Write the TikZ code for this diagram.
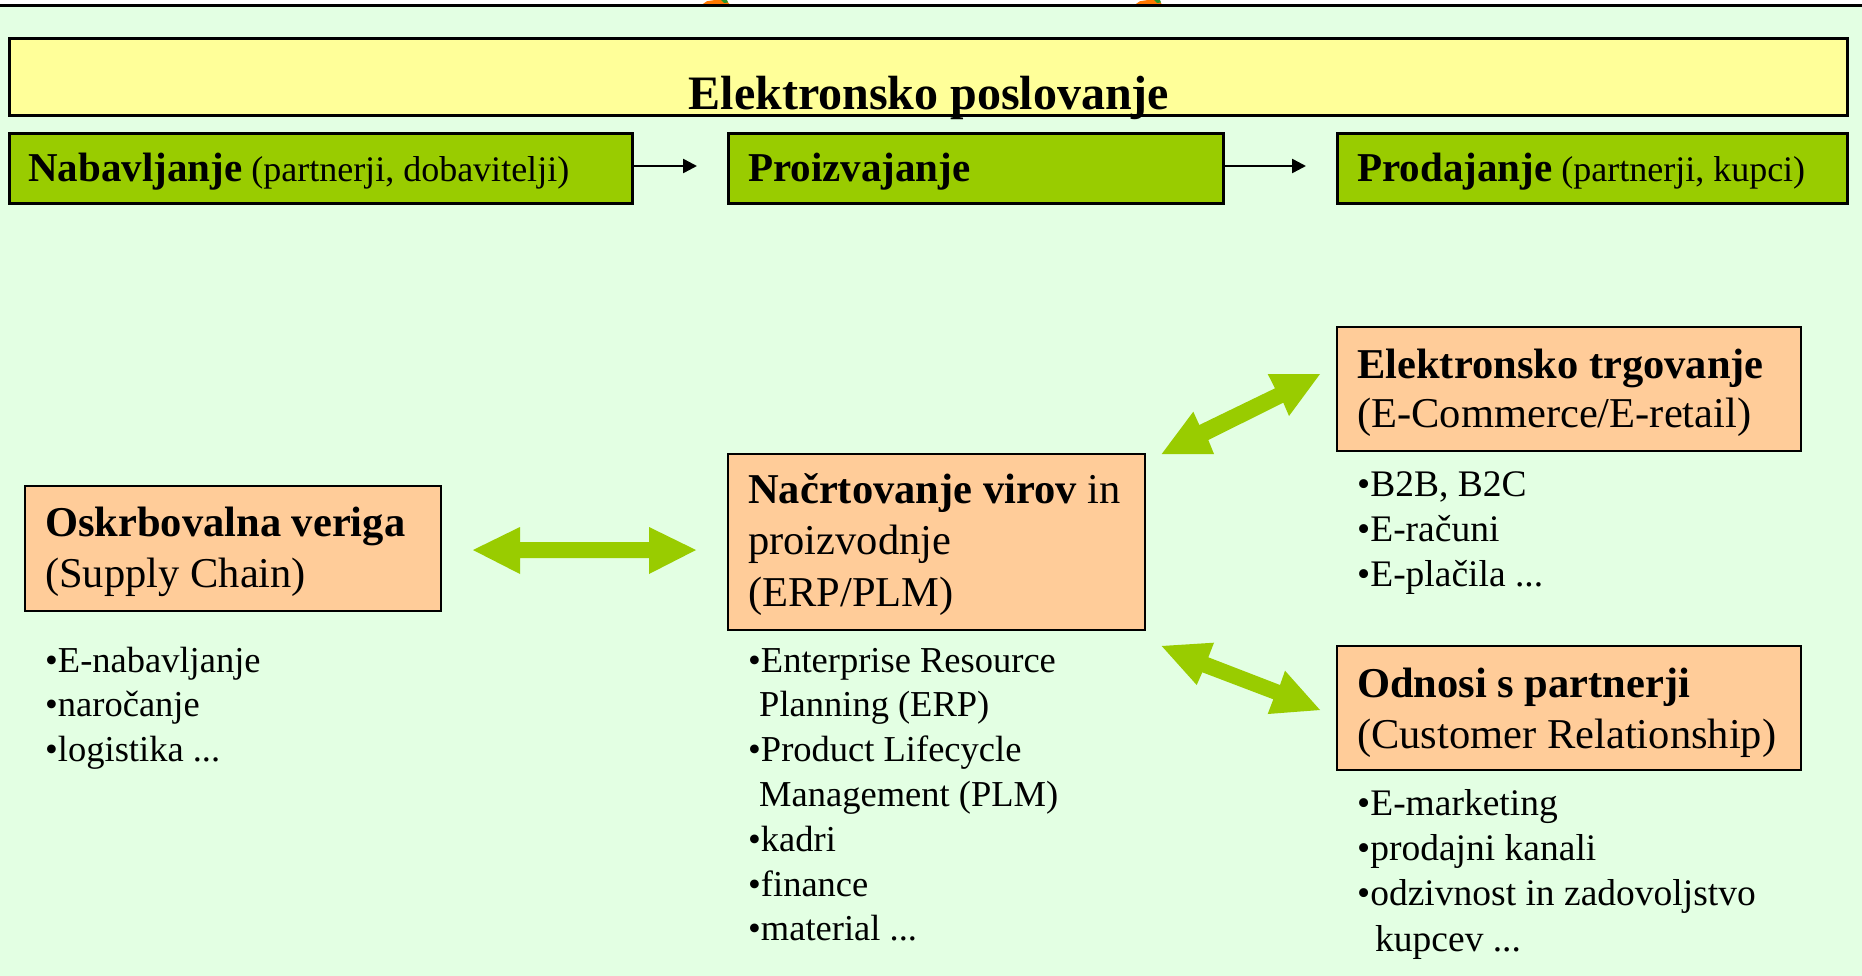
\documentclass[tikz,border=0pt]{standalone}
\usepackage{fontspec}
\setmainfont{Liberation Serif}
\usetikzlibrary{arrows.meta}

\definecolor{bgmint}{RGB}{227,255,227}
\definecolor{titleyellow}{RGB}{255,255,153}
\definecolor{stagegreen}{RGB}{153,204,0}
\definecolor{peach}{RGB}{255,204,153}
\definecolor{carrot}{RGB}{255,120,0}
\definecolor{leaf}{RGB}{40,150,40}

% left-aligned block of lines whose baseline is that of its first line
\newcommand{\stackedlines}[1]{\begin{tabular}[t]{@{}l@{}}#1\end{tabular}}

\begin{document}
\begin{tikzpicture}[x=1pt,y=-1pt,
  titlebox/.style={draw=black, line width=2.5pt, fill=titleyellow, inner sep=0pt},
  stagebox/.style={draw=black, line width=3pt, fill=stagegreen, inner sep=0pt, minimum height=70},
  areabox/.style={draw=black, line width=2.5pt, fill=peach, inner sep=0pt},
  txt/.style={anchor=base west, inner sep=0pt},
  boxtxt/.style={txt, font=\fontsize{42.5}{51.5}\selectfont},
  listtxt/.style={txt, font=\fontsize{36.5}{44.8}\selectfont},
  stagetxt/.style={txt, font=\fontsize{36}{40}\selectfont},
  flow/.style={line width=2.5pt, -{Triangle[length=14pt,width=14pt]}, shorten >=30pt},
  blockarrow/.style={fill=stagegreen, draw=none}
]
% canvas
\useasboundingbox (0,0) rectangle (1862,976);
\fill[bgmint] (0,0) rectangle (1862,976);
\fill[white] (0,0) rectangle (1862,4.5);
\fill[carrot] (702,4.6) -- (707,1.2) -- (715,0) -- (726,0) -- (730,4.6) -- cycle;
\fill[leaf] (721,0) -- (727,0) -- (728,2.5) -- (724,3) -- cycle;
\fill[carrot] (1135,4.6) -- (1140,1.2) -- (1148,0) -- (1159,0) -- (1162,4.6) -- cycle;
\fill[leaf] (1154,0) -- (1160,0) -- (1161,2.5) -- (1157,3) -- cycle;
\fill[black] (0,4.5) rectangle (1862,7.5);

% title bar
\node[titlebox, minimum width=1838, minimum height=77] (title) at (928.5,77) {};
\node[anchor=base, inner sep=0pt, font=\fontsize{48}{56}\selectfont\bfseries] (titletext) at (929,110) {Elektronsko poslovanje};

% value chain stages
\node[stagebox, minimum width=623] (nab) at (321,169) {};
\node[stagebox, minimum width=495] (pro) at (976,169) {};
\node[stagebox, minimum width=510] (prod) at (1592.5,169) {};
\node[stagetxt] (nabtext) at (28,182) {{\fontsize{41}{44}\selectfont\bfseries Nabavljanje} (partnerji, dobavitelji)};
\node[stagetxt] (protext) at (748,182) {{\fontsize{41}{44}\selectfont\bfseries Proizvajanje}};
\node[stagetxt] (prodtext) at (1357,182) {{\fontsize{41}{44}\selectfont\bfseries Prodajanje} (partnerji, kupci)};
\draw[flow] ([yshift=3pt]nab.east) -- ([yshift=3pt]pro.west);
\draw[flow] ([yshift=3pt]pro.east) -- ([yshift=3pt]prod.west);

% business areas
\node[areabox, minimum width=416, minimum height=125] (sc) at (233,548.5) {};
\node[areabox, minimum width=417, minimum height=176] (erp) at (936.5,542) {};
\node[areabox, minimum width=464, minimum height=124] (ec) at (1569,389) {};
\node[areabox, minimum width=464, minimum height=124] (crm) at (1569,708) {};

\node[boxtxt] (sctext) at (45,536) {\stackedlines{\textbf{Oskrbovalna veriga}\\(Supply Chain)}};
\node[boxtxt] (erptext) at (748,503) {\stackedlines{\textbf{Načrtovanje virov} in\\proizvodnje\\(ERP/PLM)}};
\node[boxtxt, font=\fontsize{42.5}{49.5}\selectfont] (ectext) at (1357,378) {\stackedlines{\textbf{Elektronsko trgovanje}\\(E-Commerce/E-retail)}};
\node[boxtxt] (crmtext) at (1357,697) {\stackedlines{\textbf{Odnosi s partnerji}\\(Customer Relationship)}};

% activity lists
\node[listtxt] (sclist) at (45,672) {\stackedlines{•E-nabavljanje\\•naročanje\\•logistika ...}};
\node[listtxt] (erplist) at (748,672) {\stackedlines{•Enterprise Resource\\\hspace*{11pt}Planning (ERP)\\•Product Lifecycle\\\hspace*{11pt}Management (PLM)\\•kadri\\•finance\\•material ...}};
\node[listtxt, font=\fontsize{37.5}{45.4}\selectfont] (eclist) at (1357,496) {\stackedlines{•B2B, B2C\\•E-računi\\•E-plačila ...}};
\node[listtxt, font=\fontsize{37.5}{45.4}\selectfont] (crmlist) at (1357,815) {\stackedlines{•E-marketing\\•prodajni kanali\\•odzivnost in zadovoljstvo\\\hspace*{18pt}kupcev ...}};

% two-way links between the areas
\fill[blockarrow] (473,550) -- (520,527) -- (520,542) -- (649,542) -- (649,527) -- (696,550)
  -- (649,574) -- (649,558) -- (520,558) -- (520,574) -- cycle;
\fill[blockarrow] (1161.7,454) -- (1193.3,411.7) -- (1199.3,425) -- (1275,388.3) -- (1267.7,374)
  -- (1320,374) -- (1289,416) -- (1283.3,402.7) -- (1208.3,440) -- (1214,454) -- cycle;
\fill[blockarrow] (1161.7,646) -- (1214,642.7) -- (1208.3,657.3) -- (1280,685) -- (1285,670.7)
  -- (1320,710) -- (1267.7,714) -- (1273.3,699.3) -- (1202.3,672.3) -- (1196.7,685) -- cycle;
\end{tikzpicture}
\end{document}
